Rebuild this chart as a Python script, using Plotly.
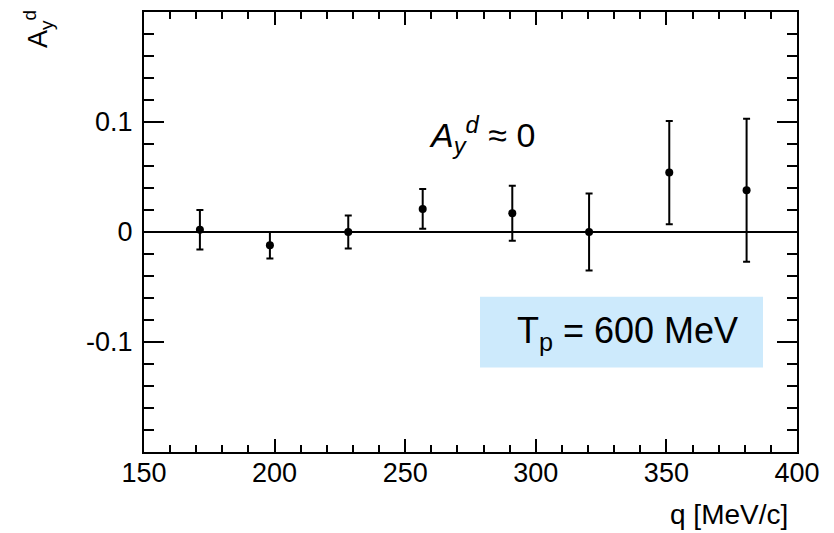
import plotly.graph_objects as go

# Deuteron vector analysing power vs momentum transfer at Tp = 600 MeV
q = [171.4, 198.2, 228.2, 256.7, 291.0, 320.4, 351.1, 380.7]
ay = [0.002, -0.012, 0.000, 0.021, 0.017, 0.000, 0.054, 0.038]
ay_err = [0.018, 0.012, 0.015, 0.018, 0.025, 0.035, 0.047, 0.065]

x_ticks = [150, 200, 250, 300, 350, 400]
y_ticks = [-0.2, -0.1, 0.0, 0.1, 0.2]
y_ticktext = ["", "-0.1", "0", "0.1", ""]

FONT = "Liberation Sans, Arial, sans-serif"

fig = go.Figure()
fig.add_trace(go.Scatter(
    x=q, y=ay, mode="markers",
    marker=dict(color="black", size=8),
    error_y=dict(type="data", array=ay_err, visible=True,
                 color="black", thickness=2, width=3.5),
    showlegend=False,
))

L, R, T, B = 144, 37, 10, 81
W, H = 834, 533
pw, ph = W - L - R, H - T - B


def px_to_paper(px, py):
    return (px - L) / pw, (H - B - py) / ph


fig.update_layout(
    width=W, height=H,
    margin=dict(l=L, r=R, t=T, b=B),
    paper_bgcolor="white", plot_bgcolor="white",
    font=dict(family=FONT, color="black"),
)

fig.update_xaxes(
    range=[150, 400], tickvals=x_ticks,
    ticks="inside", ticklen=13, tickwidth=2, tickcolor="black",
    minor=dict(dtick=10, tick0=150, ticks="inside", ticklen=7,
               tickwidth=2, tickcolor="black", showgrid=False),
    showline=True, linewidth=2, linecolor="black", mirror="ticks",
    showgrid=False, zeroline=False,
    tickfont=dict(size=27, family=FONT, color="black"),
    ticklabelstandoff=-4,
)
fig.update_yaxes(
    range=[-0.2, 0.2], tickvals=y_ticks, ticktext=y_ticktext,
    ticks="inside", ticklen=20, tickwidth=2, tickcolor="black",
    minor=dict(dtick=0.02, tick0=0, ticks="inside", ticklen=10,
               tickwidth=2, tickcolor="black", showgrid=False),
    showline=True, linewidth=2, linecolor="black", mirror="ticks",
    showgrid=False,
    zeroline=True, zerolinecolor="black", zerolinewidth=2,
    tickfont=dict(size=27, family=FONT, color="black"),
    ticklabelstandoff=4,
)

# Beam-energy label box
bx0, by0 = px_to_paper(480, 367)
bx1, by1 = px_to_paper(763, 296)
fig.add_shape(type="rect", xref="paper", yref="paper",
              x0=bx0, x1=bx1, y0=by0, y1=by1,
              fillcolor="#cdeafc", line=dict(width=0), layer="below")

ax, ay_ = px_to_paper(627, 332)
fig.add_annotation(xref="paper", yref="paper", x=ax, y=ay_,
                   text="T<sub>p</sub> = 600 MeV", showarrow=False,
                   font=dict(size=36, family=FONT, color="black"),
                   xanchor="center", yanchor="middle")

# Result statement
sx, sy = px_to_paper(482, 134)
fig.add_annotation(xref="paper", yref="paper", x=sx, y=sy,
                   text="<i>A</i><sub><i>y</i></sub><sup><i>d</i></sup> \u2248 0",
                   showarrow=False,
                   font=dict(size=34, family=FONT, color="black"),
                   xanchor="center", yanchor="middle")

# Axis titles
tx, ty = px_to_paper(38, 27)
fig.add_annotation(xref="paper", yref="paper", x=tx, y=ty,
                   text="A<sub>y</sub><sup>d</sup>", textangle=-90,
                   showarrow=False,
                   font=dict(size=27, family=FONT, color="black"),
                   xanchor="center", yanchor="middle")

qx, qy = px_to_paper(790, 515)
fig.add_annotation(xref="paper", yref="paper", x=qx, y=qy,
                   text="q [MeV/c]", showarrow=False,
                   font=dict(size=28, family=FONT, color="black"),
                   xanchor="right", yanchor="middle")

fig.write_html("out.html")
